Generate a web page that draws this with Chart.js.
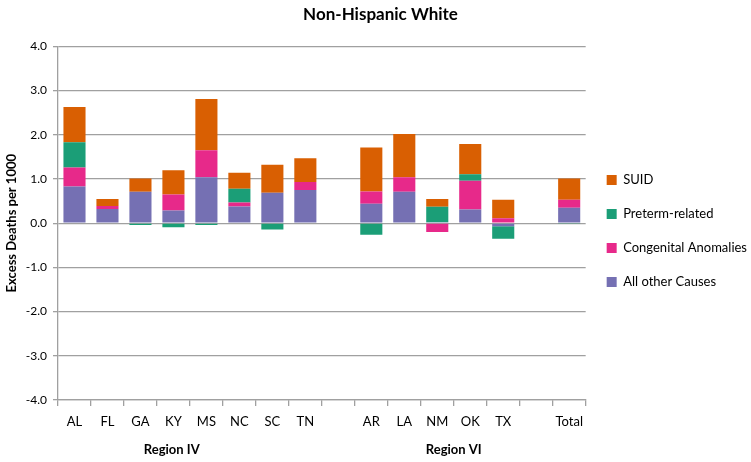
<!DOCTYPE html>
<html><head><meta charset="utf-8">
<script src="https://cdn.jsdelivr.net/npm/chart.js@4/dist/chart.umd.min.js"></script>
<style>html,body{margin:0;padding:0;background:#fff}#wrap{width:751px;height:462px}</style>
</head><body><div id="wrap"><canvas id="c" width="751" height="462"></canvas></div>
<script>
const categories = ['AL','FL','GA','KY','MS','NC','SC','TN','','AR','LA','NM','OK','TX','','Total'];
const allOther   = [0.83,0.32,0.71,0.29,1.04,0.38,0.69,0.75,null,0.44,0.71,0.02,0.31,-0.07,null,0.35];
const congenital = [0.43,0.07,0.00,0.36,0.61,0.09,0.00,0.18,null,0.28,0.33,-0.20,0.65,0.11,null,0.18];
const preterm    = [0.57,0.00,-0.04,-0.09,-0.04,0.31,-0.14,-0.01,null,-0.26,0.00,0.35,0.15,-0.28,null,-0.02];
const suid       = [0.80,0.16,0.30,0.55,1.16,0.36,0.63,0.54,null,0.99,0.98,0.18,0.68,0.42,null,0.48];
const regionLabels = [{text:'Region IV', at:2.95},{text:'Region VI', at:11.5}];
const yTicks = [-4,-3,-2,-1,0,1,2,3,4];

const FONT = 'Lato, "Liberation Sans", sans-serif';
const regionPlugin = {
  id:'regions',
  afterDraw(chart){
    const ctx = chart.ctx, xs = chart.scales.x;
    ctx.save();
    ctx.font = 'bold 13px ' + FONT;
    ctx.fillStyle = '#000';
    ctx.textAlign = 'center';
    ctx.textBaseline = 'middle';
    regionLabels.forEach(r=>{
      const p0 = xs.getPixelForValue(Math.floor(r.at));
      const p1 = xs.getPixelForValue(Math.floor(r.at)+1);
      const x = p0 + (p1-p0)*(r.at-Math.floor(r.at));
      ctx.fillText(r.text, x, 450);
    });
    ctx.restore();
  }
};

new Chart(document.getElementById('c'), {
  type:'bar',
  data:{
    labels: categories,
    datasets:[
      {label:'All other Causes', data: allOther, backgroundColor:'#7570B3'},
      {label:'Congenital Anomalies', data: congenital, backgroundColor:'#E7298A'},
      {label:'Preterm-related', data: preterm, backgroundColor:'#1B9E77'},
      {label:'SUID', data: suid, backgroundColor:'#D95F02'}
    ]
  },
  options:{
    responsive:false,
    animation:false,
    layout:{padding:{left:4,right:-6,top:0,bottom:0}},
    datasets:{bar:{barPercentage:0.67,categoryPercentage:1.0}},
    plugins:{
      title:{display:true,text:'Non-Hispanic White',color:'#000',font:{family:FONT,size:17,weight:'bold'},padding:{top:4,bottom:22}},
      legend:{position:'right',reverse:true,align:'center',
        labels:{boxWidth:10,boxHeight:10,padding:21,color:'#000',font:{family:FONT,size:13}}},
      tooltip:{enabled:false}
    },
    scales:{
      x:{stacked:true,
        grid:{display:true,offset:true,drawOnChartArea:false,tickLength:6,color:'#a0a0a0',lineWidth:1.3},
        border:{display:true,color:'#a0a0a0',width:1.3},
        ticks:{color:'#000',font:{family:FONT,size:13},padding:8,maxRotation:0,autoSkip:false},
        afterFit(s){s.height=62;}
      },
      y:{stacked:true,min:-4,max:4,
        afterBuildTicks(s){s.ticks = yTicks.map(v=>({value:v}));},
        grid:{color:'#a0a0a0',lineWidth:1.3,tickLength:5},
        border:{display:true,color:'#a0a0a0',width:1.3},
        ticks:{color:'#000',font:{family:FONT,size:12},padding:6,callback:v=>v.toFixed(1)},
        title:{display:true,text:'Excess Deaths per 1000',color:'#000',font:{family:FONT,size:13,weight:'bold'},padding:{top:0,bottom:4}},
        afterFit(s){s.width=54;}
      }
    }
  },
  plugins:[regionPlugin]
});
</script></body></html>
